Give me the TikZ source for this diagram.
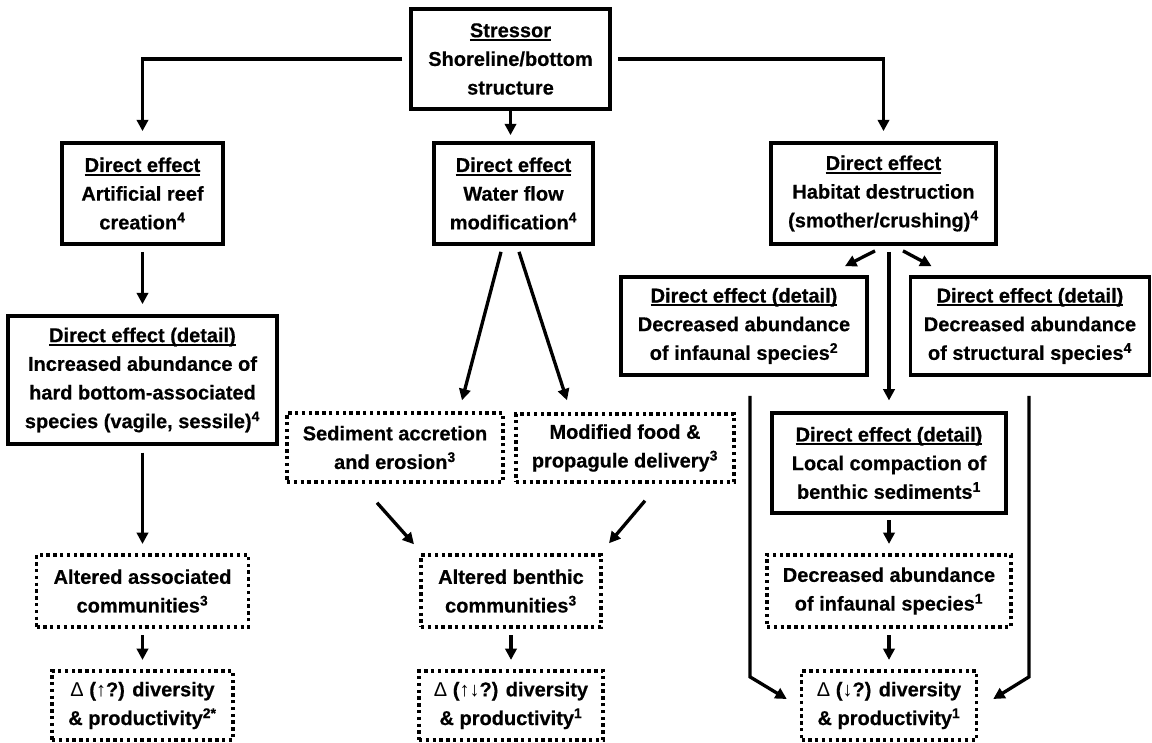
\documentclass[tikz,border=0pt]{standalone}
\usepackage{fontspec}
\setmainfont{Liberation Sans}[BoldFeatures={FakeBold=0.5}]
\usetikzlibrary{arrows.meta,calc}
% underlined heading line inside a box
\newcommand\hdr[1]{\setbox0\hbox{#1}\rlap{\rule[-2.9pt]{\wd0}{1.6pt}}\box0}
\newcommand\sups[1]{\textsuperscript{#1}}
\begin{document}
\begin{tikzpicture}[x=0.75pt,y=-0.75pt,
  txt/.style={font=\bfseries\fontsize{15pt}{21.5pt}\selectfont, align=center, inner sep=0pt},
  solidbox/.style={txt, draw, line width=2.8pt},
  dotbox/.style={txt, draw, line width=2.6pt, dash pattern=on 2.5pt off 2.6pt},
  sz/.style 2 args={minimum width=#1*0.75pt, minimum height=#2*0.75pt},
  arr/.style={line width=2.5pt, -{Triangle[length=8.5pt,width=8.5pt]}},
]
\useasboundingbox (0,0) rectangle (1152,742);

% boxes
\node[solidbox, sz={199}{100}] (stress) at (510.5,59) {\hdr{Stressor}\\Shoreline/bottom\\structure};
\node[solidbox, sz={161}{101}] (de1) at (142.5,193.5) {\hdr{Direct effect}\\Artificial reef\\creation\sups{4}};
\node[solidbox, sz={159}{101}] (de2) at (513.5,193.5) {\hdr{Direct effect}\\Water flow\\modification\sups{4}};
\node[solidbox, sz={225}{101}] (de3) at (883.5,193.5) {\hdr{Direct effect}\\Habitat destruction\\(smother/crushing)\sups{4}};
\node[solidbox, sz={269}{128}] (det1) at (142.5,380) {\hdr{Direct effect (detail)}\\Increased abundance of\\hard bottom-associated\\species (vagile, sessile)\sups{4}};
\node[dotbox, sz={212}{72}] (altA) at (142.5,591) {Altered associated\\communities\sups{3}};
\node[dotbox, sz={181}{69}] (finA) at (142.5,705.5) {{\mdseries Δ} ({\mdseries ↑}?) diversity\\\& productivity\sups{2*}};
\node[dotbox, sz={216}{69}] (sed) at (395,447.5) {Sediment accretion\\and erosion\sups{3}};
\node[dotbox, sz={218}{68}] (food) at (625,448) {Modified food \&\\propagule delivery\sups{3}};
\node[dotbox, sz={180}{72}] (altB) at (511,591) {Altered benthic\\communities\sups{3}};
\node[dotbox, sz={184}{69}] (finB) at (511,705.5) {{\mdseries Δ} ({\mdseries ↑↓}?) diversity\\\& productivity\sups{1}};
\node[solidbox, sz={246}{98}] (det2) at (744,326) {\hdr{Direct effect (detail)}\\Decreased abundance\\of infaunal species\sups{2}};
\node[solidbox, sz={239}{98}] (det3) at (1030,326) {\hdr{Direct effect (detail)}\\Decreased abundance\\of structural species\sups{4}};
\node[solidbox, sz={234}{100}] (comp) at (889,463) {\hdr{Direct effect (detail)}\\Local compaction of\\benthic sediments\sups{1}};
\node[dotbox, sz={244}{72}] (decr) at (889,591) {Decreased abundance\\of infaunal species\sups{1}};
\node[dotbox, sz={175}{69}] (finC) at (889,705.5) {{\mdseries Δ} ({\mdseries ↓}?) diversity\\\& productivity\sups{1}};

% stressor to direct effects
\draw[arr, shorten <=5pt, shorten >=7.5pt] (stress.west) -| (de1.north);
\draw[arr, shorten <=4.5pt, shorten >=7.5pt] (stress.east) -| (de3.north);
\draw[arr, shorten >=4.5pt] (stress.south) -- (stress.south |- de2.north);

% left column
\draw[arr, shorten <=4.5pt, shorten >=7.5pt] (de1) -- (det1);
\draw[arr, shorten <=5pt, shorten >=7pt] (det1) -- (altA);
\draw[arr, shorten <=5pt, shorten >=7pt] (altA) -- (finA);

% middle column
\draw[arr] ($(de2.south)+(-12.5,6)$) -- ($(sed.north)+(67,-11)$);
\draw[arr] ($(de2.south)+(5.5,6)$) -- ($(food.north)+(-58,-12)$);
\draw[arr] ($(sed.south)+(-18,19)$) -- ($(altB.north)+(-97,-9)$);
\draw[arr] ($(food.south)+(20,17)$) -- ($(altB.north)+(98,-10)$);
\draw[arr, shorten <=5pt, shorten >=7pt] (altB) -- (finB);

% right column
\draw[arr] ($(de3.south)+(-8.5,5)$) -- ($(det2.north)+(101,-9)$);
\draw[arr] ($(de3.south)+(19.5,5)$) -- ($(det3.north)+(-98.5,-9)$);
\draw[arr, shorten <=4.5pt, shorten >=8pt] (comp.north |- de3.south) -- (comp.north);
\draw[arr, shorten <=4pt, shorten >=7pt] (comp) -- (decr);
\draw[arr, shorten <=5pt, shorten >=7pt] (decr) -- (finC);
\draw[arr] ($(det2.south)+(6,19)$) -- ++(0,281) -- ($(finC.west)+(-13,-6.5)$);
\draw[arr] ($(det3.south)+(-1,19)$) -- ++(0,281) -- ($(finC.east)+(15,-6.5)$);
\end{tikzpicture}
\end{document}
